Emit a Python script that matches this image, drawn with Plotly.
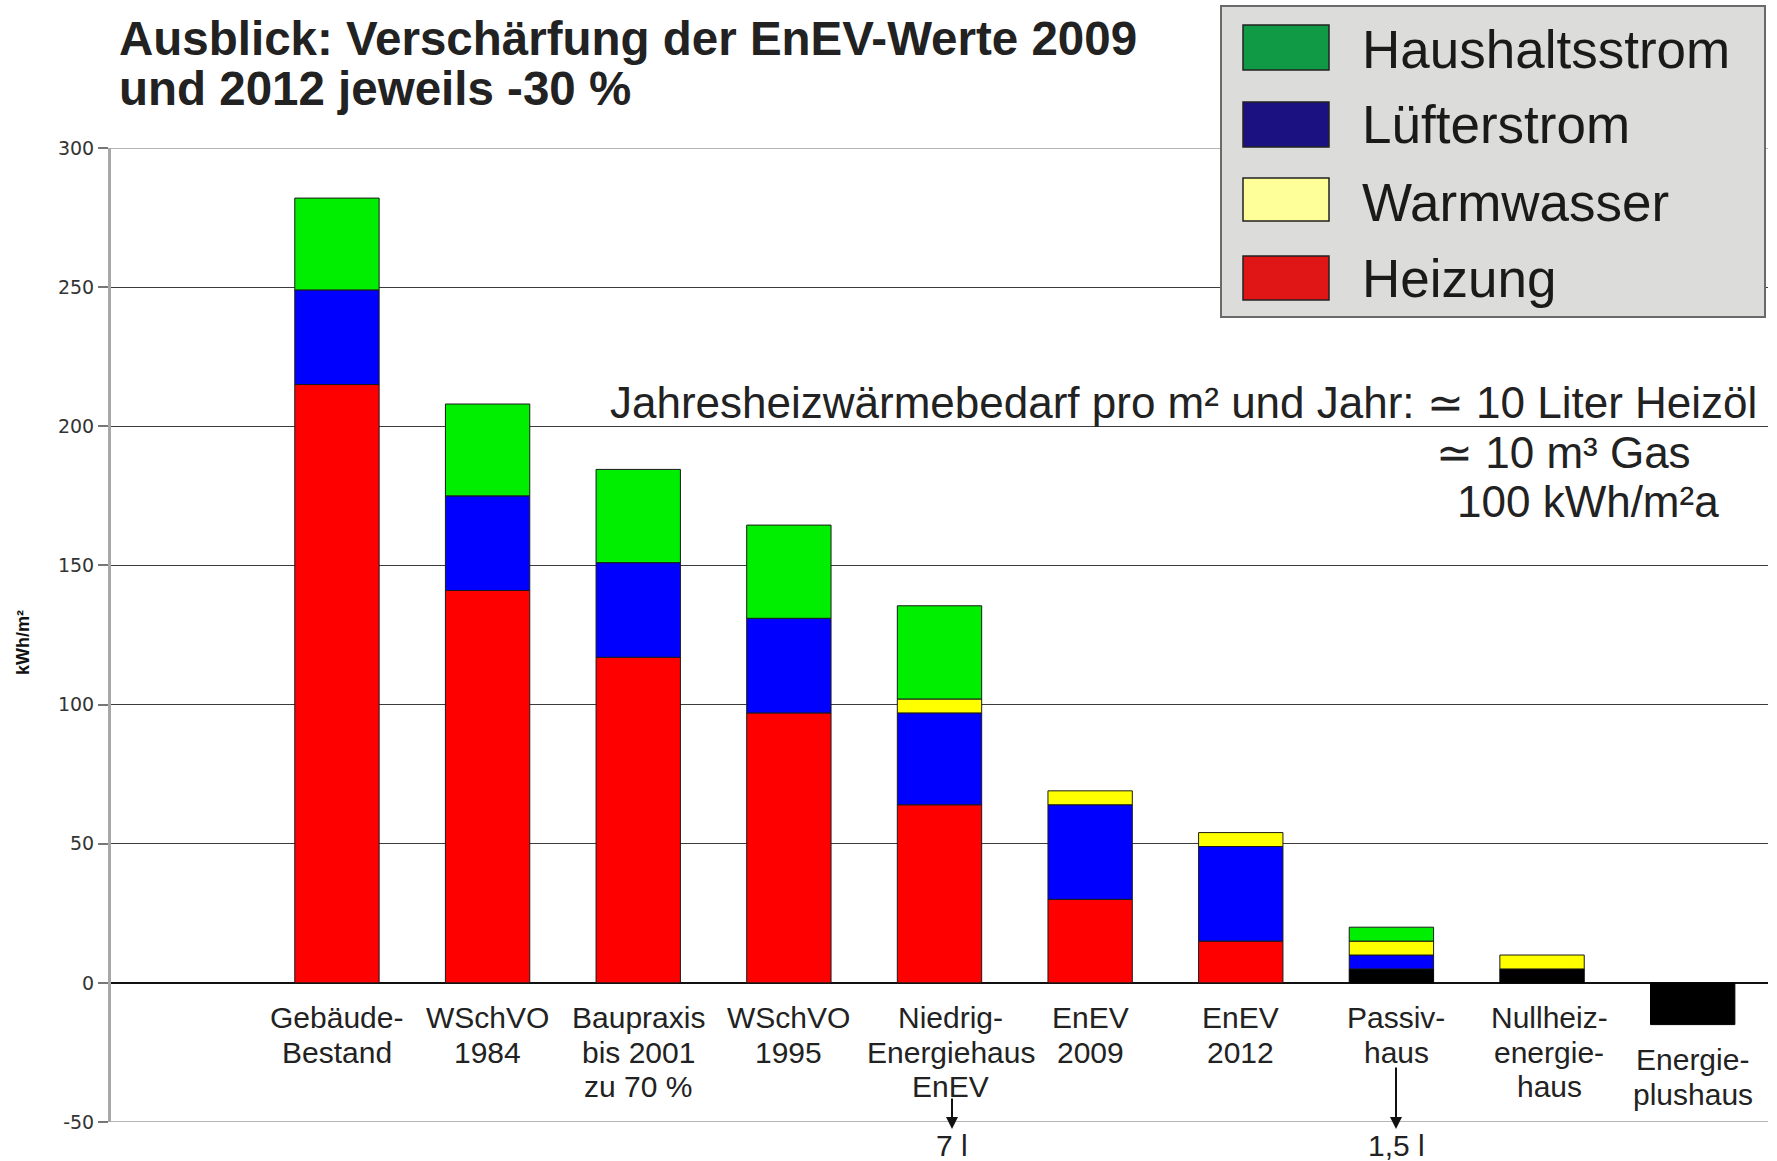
import plotly.graph_objects as go

# ---------------- data ----------------
categories = ["Gebäude-Bestand", "WSchVO 1984", "Baupraxis bis 2001 zu 70 %", "WSchVO 1995",
              "Niedrig-Energiehaus EnEV", "EnEV 2009", "EnEV 2012", "Passivhaus",
              "Nullheizenergiehaus", "Energieplushaus"]
label_lines = [["Gebäude-", "Bestand"], ["WSchVO", "1984"], ["Baupraxis", "bis 2001", "zu 70 %"],
               ["WSchVO", "1995"], ["Niedrig-", "Energiehaus", "EnEV"], ["EnEV", "2009"],
               ["EnEV", "2012"], ["Passiv-", "haus"], ["Nullheiz-", "energie-", "haus"],
               ["Energie-", "plushaus"]]

rest_heizung   = [None, None, None, None, None, None, None, 5, 5, -15]   # black segments
heizung        = [215, 141, 117, 97, 64, 30, 15, None, None, None]
luefterstrom   = [34, 34, 34, 34, 33, 34, 34, 5, None, None]
warmwasser     = [None, None, None, None, 5, 5, 5, 5, 5, None]
haushaltsstrom = [33, 33, 33.5, 33.5, 33.5, None, None, 5, None, None]

series_names  = ["Haushaltsstrom", "Lüfterstrom", "Warmwasser", "Heizung"]
legend_colors = ["#109a45", "#1c1180", "#ffff9a", "#e01515"]

y_ticks = [-50, 0, 50, 100, 150, 200, 250, 300]

title_lines = ["Ausblick: Verschärfung der EnEV-Werte 2009", "und 2012 jeweils -30 %"]
note_lines = ["Jahresheizwärmebedarf pro m² und Jahr: ≃ 10 Liter Heizöl", "≃ 10 m³ Gas", "100 kWh/m²a"]
arrow_notes = {"Niedrig-Energiehaus EnEV": "7 l", "Passivhaus": "1,5 l"}

# label horizontal nudges (pixels, styling only)
label_xshift = [0, 0, 0, 0, 11, 0, 0, 5, 7, 0]

# ---------------- layout geometry (page pixels; body margin removed) ----------------
FIG_W, FIG_H = 1777, 1161
P_LEFT, P_RIGHT, P_TOP, P_BOTTOM = 111, 1768, 148, 1122
ML = P_LEFT
MR = FIG_W - P_RIGHT
MT = P_TOP
MB = FIG_H - P_BOTTOM


def pxx(px):
    return (px - P_LEFT) / (P_RIGHT - P_LEFT)


def pxy(py):
    return (P_BOTTOM - py) / (P_BOTTOM - P_TOP)


FONT = "Liberation Sans, Arial, sans-serif"

fig = go.Figure()
fig.add_trace(go.Bar(x=categories, y=rest_heizung, name="Heizung (Rest)", marker_color="#000000",
                     marker_line=dict(color="#000000", width=1), showlegend=False))
fig.add_trace(go.Bar(x=categories, y=heizung, name="Heizung", marker_color="#ff0000",
                     marker_line=dict(color="#1a1a1a", width=1), showlegend=False))
fig.add_trace(go.Bar(x=categories, y=luefterstrom, name="Lüfterstrom", marker_color="#0000ff",
                     marker_line=dict(color="#1a1a1a", width=1), showlegend=False))
fig.add_trace(go.Bar(x=categories, y=warmwasser, name="Warmwasser", marker_color="#ffff00",
                     marker_line=dict(color="#1a1a1a", width=1), showlegend=False))
fig.add_trace(go.Bar(x=categories, y=haushaltsstrom, name="Haushaltsstrom", marker_color="#00ee00",
                     marker_line=dict(color="#1a1a1a", width=1), showlegend=False))

annotations = []
shapes = []

# title
for t, cy in zip(title_lines, [38, 89]):
    annotations.append(dict(text="<b>" + t + "</b>", xref="paper", yref="paper", x=pxx(117), y=pxy(cy),
                            xanchor="left", yanchor="middle", showarrow=False,
                            font=dict(family=FONT, size=47.5, color="#222222")))

# category labels (below zero or below negative bar)
for ci, (cat, lines) in enumerate(zip(categories, label_lines)):
    vals = [s[ci] for s in (rest_heizung, heizung, luefterstrom, warmwasser, haushaltsstrom)]
    base = min([0] + [v for v in vals if v is not None and v < 0])
    for li, line in enumerate(lines):
        annotations.append(dict(text=line, x=cat, y=base, xref="x", yref="y",
                                xshift=label_xshift[ci],
                                yshift=-(35 + li * 34.5), xanchor="center", yanchor="middle",
                                showarrow=False, font=dict(family=FONT, size=30, color="#222222")))

# arrows and litre notes
arrow_tails = {"Niedrig-Energiehaus EnEV": (952, 1097), "Passivhaus": (1396, 1066)}
for cat, txt in arrow_notes.items():
    tx, ty = arrow_tails[cat]
    annotations.append(dict(text="", xref="paper", yref="paper", x=pxx(tx), y=pxy(1129),
                            ax=0, ay=-(1129 - ty), showarrow=True, arrowhead=2, arrowsize=1.2,
                            arrowwidth=2, arrowcolor="#111111"))
    annotations.append(dict(text=txt, xref="paper", yref="paper", x=pxx(tx), y=pxy(1145),
                            xanchor="center", yanchor="middle", showarrow=False,
                            font=dict(family=FONT, size=30, color="#222222")))

# note text
for t, cx, cy in zip(note_lines, [1183, 1563, 1588], [402, 453, 501]):
    annotations.append(dict(text=t, xref="paper", yref="paper", x=pxx(cx), y=pxy(cy),
                            xanchor="center", yanchor="middle", showarrow=False,
                            font=dict(family=FONT, size=44, color="#222222")))

# y-axis title
annotations.append(dict(text="<b>kWh/m²</b>", xref="paper", yref="paper", x=pxx(23), y=pxy(643),
                        textangle=-90, xanchor="center", yanchor="middle", showarrow=False,
                        font=dict(family=FONT, size=18, color="#111111")))

# light top/bottom grid lines
for yv in (300, -50):
    shapes.append(dict(type="line", xref="paper", yref="y", x0=0, x1=1, y0=yv, y1=yv,
                       line=dict(color="#b5b5b5", width=2), layer="below"))

# custom legend
shapes.append(dict(type="rect", xref="paper", yref="paper", x0=pxx(1221), x1=pxx(1765),
                   y0=pxy(317), y1=pxy(6), fillcolor="#dcdcda", line=dict(color="#6a6a6a", width=2),
                   layer="above"))
sw_y = [(25, 70), (102, 147), (178, 221), (256, 300)]
txt_y = [50, 125, 202, 278]
for name, col, (y0, y1), ty in zip(series_names, legend_colors, sw_y, txt_y):
    shapes.append(dict(type="rect", xref="paper", yref="paper", x0=pxx(1243), x1=pxx(1329),
                       y0=pxy(y1), y1=pxy(y0), fillcolor=col, line=dict(color="#222222", width=1.5),
                       layer="above"))
    annotations.append(dict(text=name, xref="paper", yref="paper", x=pxx(1360), y=pxy(ty),
                            xanchor="left", yanchor="middle", showarrow=False,
                            font=dict(family=FONT, size=53, color="#1a1a1a")))

fig.update_layout(
    width=FIG_W, height=FIG_H,
    margin=dict(l=ML, r=MR, t=MT, b=MB, pad=0),
    paper_bgcolor="white", plot_bgcolor="white",
    barmode="relative", bargap=0.44,
    showlegend=False,
    annotations=annotations, shapes=shapes,
    xaxis=dict(type="category", range=[-1.5, 9.5], showticklabels=False, showgrid=False,
               zeroline=False, showline=False, ticks=""),
    yaxis=dict(range=[-50, 300], tickvals=y_ticks, ticktext=[str(v) for v in y_ticks],
               showgrid=True, gridcolor="#3c3c3c", gridwidth=1,
               zeroline=True, zerolinecolor="#111111", zerolinewidth=1.5,
               showline=True, linecolor="#a8a8a8", linewidth=3,
               ticks="outside", ticklen=10, tickcolor="#777777", tickwidth=1.5,
               tickfont=dict(family="DejaVu Sans, sans-serif", size=19, color="#333333")),
)

fig.write_html("out.html", config={"displayModeBar": False},
               post_script="document.body.style.margin='0';document.body.style.overflow='hidden';")
